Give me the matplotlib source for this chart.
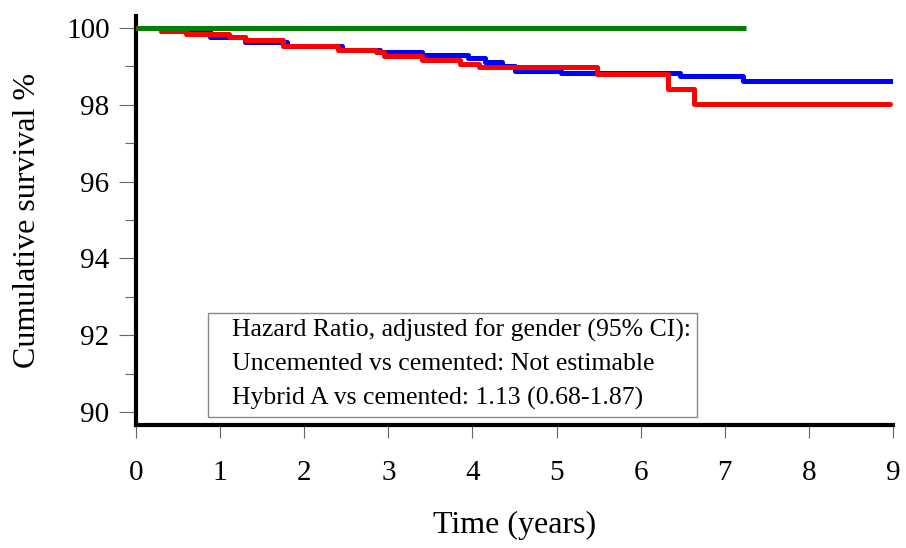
import matplotlib
matplotlib.use("Agg")
import matplotlib.pyplot as plt
from matplotlib.ticker import MultipleLocator
from matplotlib.patches import Rectangle

# Data (Kaplan-Meier step curves)
t_blue = [0, 0.3, 0.88, 1.3, 1.8, 2.45, 2.9, 3.4, 3.95, 4.15, 4.35, 4.5, 5.05, 6.47, 7.22, 9.0]
s_blue = [100, 99.93, 99.77, 99.62, 99.52, 99.43, 99.37, 99.30, 99.21, 99.12, 99.0, 98.88, 98.83, 98.74, 98.62, 98.62]

t_red = [0, 0.3, 0.6, 1.1, 1.3, 1.75, 2.4, 2.85, 2.95, 3.4, 3.85, 4.08, 5.48, 6.33, 6.63, 8.97]
s_red = [100, 99.92, 99.85, 99.76, 99.68, 99.54, 99.43, 99.36, 99.27, 99.17, 99.07, 98.97, 98.79, 98.42, 98.03, 98.03]

t_green = [0, 7.25]
s_green = [100, 100]

x_ticks = [0, 1, 2, 3, 4, 5, 6, 7, 8, 9]
y_ticks = [90, 92, 94, 96, 98, 100]

box_lines = ["Hazard Ratio, adjusted for gender (95% CI):",
             "Uncemented vs cemented: Not estimable",
             "Hybrid A vs cemented: 1.13 (0.68-1.87)"]

plt.rcParams['font.family'] = ['Liberation Serif', 'DejaVu Serif']

fig = plt.figure(figsize=(9.06, 5.48), dpi=100)
ax = fig.add_axes([136/906, 123/548, (893-136)/906, (425-16)/548])

ax.step(t_blue, s_blue, where='post', color='#0000FF', lw=3.6, solid_capstyle='round', zorder=3)
ax.step(t_red, s_red, where='post', color='#FF0000', lw=3.6, solid_capstyle='round', zorder=4)
ax.plot(t_green, s_green, color='#008000', lw=3.6, solid_capstyle='butt', zorder=5)

ax.set_xlim(0, 9)
ax.set_ylim(89.66, 100.31)
ax.set_xticks(x_ticks)
ax.set_yticks(y_ticks)
ax.yaxis.set_minor_locator(MultipleLocator(1))
ax.tick_params(axis='both', which='major', labelsize=21, color='#666666', width=0.8)
ax.tick_params(axis='y', which='major', length=12, pad=7)
ax.tick_params(axis='y', which='minor', length=8, color='#666666', width=0.8)
ax.tick_params(axis='x', which='major', length=9, pad=16)

for s in ['top', 'right']:
    ax.spines[s].set_visible(False)
for s in ['left', 'bottom']:
    ax.spines[s].set_linewidth(3)
    ax.spines[s].set_color('black')

ax.set_xlabel("Time (years)", fontsize=23, labelpad=18)
ax.set_ylabel("Cumulative survival %", fontsize=23, labelpad=17)

ax.add_patch(Rectangle((0.0951, 0.0196), 0.741 - 0.0951, 0.274 - 0.0196,
                       transform=ax.transAxes, facecolor='white',
                       edgecolor='#888888', linewidth=1.0, zorder=6))
for yy, line in zip([0.232, 0.150, 0.066], box_lines):
    ax.text(0.1268, yy, line, transform=ax.transAxes, fontsize=18.5,
            va='center', ha='left', zorder=7)

fig.savefig("out.png", dpi=100)
